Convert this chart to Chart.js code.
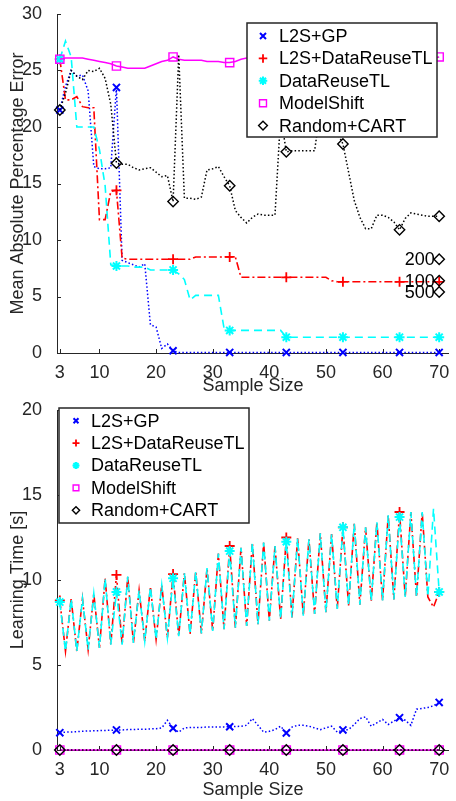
<!DOCTYPE html>
<html><head><meta charset="utf-8">
<script src="https://cdn.jsdelivr.net/npm/chart.js@4.4.1/dist/chart.umd.min.js"></script>
<style>
html,body{margin:0;padding:0;background:#fff;}
#wrap{position:relative;width:456px;height:801px;overflow:hidden;}
.box{position:absolute;left:0;width:456px;}
canvas{display:block;}
</style></head><body>
<div id="wrap">
<div class="box" style="top:0;height:400px"><canvas id="c1" width="456" height="400"></canvas></div>
<div class="box" style="top:400px;height:401px"><canvas id="c2" width="456" height="401"></canvas></div>
</div>
<script>
// ---------------- data ----------------
const sampleSizes = [3,4,5,6,7,8,9,10,11,12,13,14,15,16,17,18,19,20,21,22,23,24,25,26,27,28,29,30,31,32,33,34,35,36,37,38,39,40,41,42,43,44,45,46,47,48,49,50,51,52,53,54,55,56,57,58,59,60,61,62,63,64,65,66,67,68,69,70];
const markerSizes = [3,13,23,33,43,53,63,70];
const xTickValues = [3,10,20,30,40,50,60,70];
const seriesNames = ['L2S+GP','L2S+DataReuseTL','DataReuseTL','ModelShift','Random+CART'];

// Mean Absolute Percentage Error (top panel)
const mapeL2SGP = [21.5,23.6,25.0,24.5,24.6,23.2,16.5,16.3,16.3,16.4,23.5,8.2,8.0,7.8,7.6,7.9,2.5,2.3,0.4,0.8,0.2,
  0.05,0.05,0.05,0.05,0.05,0.05,0.05,0.05,0.05,0.05,0.05,0.05,0.05,0.05,0.05,0.05,0.05,0.05,0.05,0.05,0.05,0.05,0.05,0.05,0.05,0.05,0.05,0.05,0.05,0.05,0.05,0.05,0.05,0.05,0.05,0.05,0.05,0.05,0.05,0.05,0.05,0.05,0.05,0.05,0.05,0.05,0.05];
const mapeL2SDataReuse = [26.0,22.4,22.4,22.7,21.8,21.7,21.7,11.8,11.8,14.3,14.4,8.4,
  8.3,8.3,8.3,8.3,8.3,8.3,8.3,8.3,8.3,8.3,8.3,8.3,
  8.5,8.5,8.5,8.5,8.5,8.5,8.5,8.5,
  6.7,6.7,6.7,6.7,6.7,6.7,6.7,6.7,6.7,6.7,6.7,6.7,6.7,6.7,6.7,6.7,
  6.4,6.3,6.3,6.3,6.3,6.3,6.3,6.3,6.3,6.3,6.3,6.3,6.3,6.3,6.3,6.3,6.3,6.3,6.3,6.3];
const mapeDataReuse = [26.0,27.6,26.2,20.0,20.0,20.0,20.0,18.0,14.8,7.8,7.7,7.7,7.7,7.6,7.6,7.6,7.35,7.35,7.35,7.35,7.35,7.0,6.5,4.7,5.1,5.1,5.1,5.1,5.1,2.2,
  2.0,2.0,2.0,2.0,2.0,2.0,2.0,2.0,2.0,2.0,
  1.4,1.4,1.4,1.4,1.4,1.4,1.4,1.4,1.4,1.4,1.4,1.4,1.4,1.4,1.4,1.4,1.4,1.4,1.4,1.4,1.4,1.4,1.4,1.4,1.4,1.4,1.4,1.4];
const mapeModelShift = [26.0,26.1,26.1,26.1,26.1,26.0,25.9,25.8,25.7,25.6,25.4,25.3,25.2,25.2,25.2,25.2,25.4,25.6,25.8,25.9,26.2,26.0,25.9,25.9,25.9,25.9,25.8,25.8,25.8,25.7,25.7,25.8,26.0,
  26.1,26.1,26.1,26.1,26.1,26.1,26.1,26.1,26.1,26.1,26.1,26.1,26.1,26.1,26.1,26.1,26.1,26.1,26.1,26.1,26.1,26.1,26.1,26.1,26.1,26.1,26.1,26.1,26.1,26.1,26.1,26.1,26.1,26.1,26.2];
const mapeRandomCART = [21.5,23.0,25.0,24.5,24.2,25.0,24.9,25.2,24.3,22.0,16.8,16.7,16.7,16.4,16.2,16.3,16.4,16.0,15.6,15.7,13.4,26.4,13.7,13.7,13.6,13.8,16.2,16.3,16.5,15.6,14.8,12.6,12.0,11.5,12.0,12.3,12.2,12.2,12.2,21.0,17.8,17.9,17.9,17.9,17.9,17.9,21.5,22.0,21.5,19.5,18.5,16.0,13.5,12.0,11.0,11.0,12.2,12.2,12.0,11.6,10.9,11.9,12.4,12.3,12.2,12.1,12.1,12.1];
// Random+CART with larger sample sizes (annotated diamonds at the right edge)
const largeSampleLabels = ['200','100','500'];
const largeSampleX = [70,70,70];
const largeSampleMAPE = [8.3,6.4,5.4];

// Learning time [s] (bottom panel)
const timeL2SGP = [1.02,1.05,1.06,1.08,1.10,1.12,1.13,1.14,1.15,1.16,1.18,1.18,1.20,1.20,1.22,1.22,1.24,1.25,1.30,1.75,1.28,1.05,1.30,1.32,1.33,1.33,1.35,1.35,1.35,1.36,1.37,1.38,1.40,1.45,1.85,1.45,1.05,1.10,1.20,1.40,1.00,1.35,1.45,1.45,1.40,1.30,1.20,1.30,1.40,1.05,1.18,1.20,1.50,1.85,1.95,1.40,1.60,1.80,1.50,1.70,1.90,1.75,1.45,2.40,2.45,2.50,2.60,2.80];
const timeL2SDataReuse = [8.8,5.8,8.9,5.8,8.9,5.9,9.2,6.0,10.1,6.2,10.3,6.2,10.2,6.3,9.4,6.4,9.6,6.5,9.7,6.6,10.35,6.7,10.4,6.8,10.5,6.85,10.7,7.0,11.55,7.1,12.0,7.2,11.9,7.3,12.2,7.4,12.2,7.6,12.0,7.7,12.5,7.8,12.45,7.9,12.4,8.0,12.75,8.1,12.7,8.3,13.1,8.5,13.3,8.55,13.1,8.75,13.4,8.8,13.8,8.85,14.0,9.0,14.0,9.0,14.0,9.0,8.4,9.3];
const timeDataReuse = [8.7,5.8,8.9,5.8,8.9,5.9,9.2,6.0,10.1,6.2,9.3,6.2,10.2,6.3,9.4,6.4,9.6,6.5,9.7,6.6,10.1,6.7,10.4,6.8,10.5,6.85,10.7,7.0,11.55,7.1,11.7,7.2,11.9,7.3,12.2,7.4,12.2,7.6,12.0,7.7,12.25,7.8,12.45,7.9,12.4,8.0,12.75,8.1,12.7,8.3,13.1,8.5,13.3,8.55,13.1,8.75,13.4,8.8,13.8,8.85,13.7,9.0,14.0,9.0,14.0,9.0,14.2,9.3];
const timeModelShift = [0,0,0,0,0,0,0,0,0,0,0,0,0,0,0,0,0,0,0,0,0,0,0,0,0,0,0,0,0,0,0,0,0,0,0,0,0,0,0,0,0,0,0,0,0,0,0,0,0,0,0,0,0,0,0,0,0,0,0,0,0,0,0,0,0,0,0,0];
const timeRandomCART = [0,0,0,0,0,0,0,0,0,0,0,0,0,0,0,0,0,0,0,0,0,0,0,0,0,0,0,0,0,0,0,0,0,0,0,0,0,0,0,0,0,0,0,0,0,0,0,0,0,0,0,0,0,0,0,0,0,0,0,0,0,0,0,0,0,0,0,0];

// ---------------- styling ----------------
const FONT = "'Liberation Sans', Arial, Helvetica, sans-serif";
const AX = '#262626';
const styles = [
  {color:'#0000ff', dash:[1.5,2.2], pointStyle:'crossRot', r:5,   pw:2,   w:1.5},
  {color:'#ff0000', dash:[8,3,2,3], pointStyle:'cross',    r:5,   pw:1.8, w:1.6},
  {color:'#00ffff', dash:[8,5],     pointStyle:'star',     r:5,   pw:2,   w:1.6},
  {color:'#ff00ff', dash:[],        pointStyle:'rect',     r:5.8, pw:1.4, w:1.5},
  {color:'#000000', dash:[1.5,2.2], pointStyle:'rectRot',  r:5.2, pw:1.4, w:1.5}
];

function pts(vals){ return vals.map((v,i)=>({x: sampleSizes[i], y: v})); }
function makeDatasets(seriesVals){
  return seriesVals.map((vals,k)=>{
    const s = styles[k];
    return {
      label: seriesNames[k], data: pts(vals),
      borderColor: s.color, backgroundColor: 'rgba(0,0,0,0)',
      borderWidth: s.w, borderDash: s.dash,
      pointStyle: s.pointStyle,
      pointRadius: (ctx)=> markerSizes.includes(sampleSizes[ctx.dataIndex]) ? s.r : 0,
      pointHoverRadius: 0,
      pointBorderWidth: s.pw, pointBorderColor: s.color, pointBackgroundColor: 'rgba(0,0,0,0)',
      tension: 0, fill: false, clip: false, order: 4 - k
    };
  });
}

const inwardTicks = {
  id: 'inwardTicks',
  beforeDatasetsDraw(chart){
    const {ctx, scales:{x,y}, chartArea:a} = chart;
    ctx.save(); ctx.strokeStyle = AX; ctx.lineWidth = 1; ctx.beginPath();
    x.ticks.forEach(t=>{ const px = Math.round(x.getPixelForValue(t.value)) + 0.5; ctx.moveTo(px, a.bottom); ctx.lineTo(px, a.bottom - 4); });
    y.ticks.forEach(t=>{ const py = Math.round(y.getPixelForValue(t.value)) + 0.5; ctx.moveTo(a.left, py); ctx.lineTo(a.left + 4, py); });
    ctx.stroke(); ctx.restore();
  }
};

const boxLegend = {
  id: 'boxLegend',
  afterDatasetsDraw(chart, args, o){
    const ctx = chart.ctx;
    ctx.save();
    ctx.fillStyle = '#fff'; ctx.fillRect(o.x, o.y, o.w, o.h);
    ctx.strokeStyle = AX; ctx.lineWidth = 1.5; ctx.strokeRect(o.x, o.y, o.w, o.h);
    chart.data.datasets.slice(0, seriesNames.length).forEach((ds, i)=>{
      const cy = o.y + o.first + i * o.gap;
      const s = styles[i];
      ctx.strokeStyle = s.color; ctx.fillStyle = 'rgba(0,0,0,0)'; ctx.lineWidth = s.pw;
      Chart.helpers.drawPoint(ctx, {pointStyle: s.pointStyle, radius: s.r * o.mscale, rotation: 0, borderWidth: s.pw}, o.x + o.mx, cy);
      ctx.fillStyle = '#000'; ctx.font = '18px ' + FONT; ctx.textBaseline = 'middle'; ctx.textAlign = 'left';
      ctx.fillText(ds.label, o.x + o.tx, cy + 1);
    });
    ctx.restore();
  }
};

const pointLabels = {
  id: 'pointLabels',
  afterDatasetsDraw(chart){
    const idx = chart.data.datasets.findIndex(d => d.pointText);
    if (idx < 0) return;
    const meta = chart.getDatasetMeta(idx);
    const ctx = chart.ctx; ctx.save();
    ctx.fillStyle = '#000'; ctx.font = '18px ' + FONT; ctx.textAlign = 'right'; ctx.textBaseline = 'middle';
    meta.data.forEach((el, i)=>{ ctx.fillText(chart.data.datasets[idx].pointText[i], el.x - 4.5, el.y + 1); });
    ctx.restore();
  }
};

function xScale(height, titlePad){
  return {
    type: 'linear', min: 2.5, max: 71.7,
    afterBuildTicks: s => { s.ticks = xTickValues.map(v => ({value: v})); },
    grid: {display: false}, border: {display: true, color: AX, width: 1},
    ticks: {color: AX, font: {family: FONT, size: 18}, padding: 1, maxRotation: 0, autoSkip: false},
    title: {display: true, text: 'Sample Size', color: AX, font: {family: FONT, size: 18}, padding: {top: 0, bottom: titlePad}},
    afterFit: s => { s.height = height; s.paddingLeft = 0; s.paddingRight = 0; }
  };
}
function yScale(max, title){
  return {
    min: 0, max: max,
    grid: {display: false}, border: {display: true, color: AX, width: 1},
    ticks: {stepSize: 5, color: AX, font: {family: FONT, size: 18}, padding: 7},
    title: {display: true, text: title, color: AX, font: {family: FONT, size: 18}, padding: {top: 7, bottom: 0}},
    afterFit: s => { s.width = 57; s.paddingTop = 0; s.paddingBottom = 0; }
  };
}

const common = {
  responsive: false, animation: false, devicePixelRatio: 1,
  plugins: {legend: {display: false}, tooltip: {enabled: false}},
  events: []
};

// ---------------- top chart ----------------
const topSets = makeDatasets([mapeL2SGP, mapeL2SDataReuse, mapeDataReuse, mapeModelShift, mapeRandomCART]);
topSets.push({
  label: 'Random+CART (larger samples)',
  data: largeSampleX.map((x, i) => ({x: x, y: largeSampleMAPE[i]})),
  pointText: largeSampleLabels,
  showLine: false, borderColor: '#000', backgroundColor: 'rgba(0,0,0,0)',
  pointStyle: 'rectRot', pointRadius: 5.2, pointHoverRadius: 0, pointBorderWidth: 1.4,
  pointBorderColor: '#000', pointBackgroundColor: 'rgba(0,0,0,0)', clip: false, order: -1
});
new Chart(document.getElementById('c1'), {
  type: 'line',
  data: {datasets: topSets},
  options: Object.assign({}, common, {
    layout: {padding: {left: 0, right: 1, top: 14, bottom: 0}},
    scales: {x: xScale(47, 3), y: yScale(30, 'Mean Absolute Percentage Error')},
    plugins: Object.assign({}, common.plugins, {
      boxLegend: {x: 247, y: 23, w: 190, h: 114, first: 13, gap: 22.4, mx: 16, tx: 32, mscale: 0.85}
    })
  }),
  plugins: [inwardTicks, boxLegend, pointLabels]
});

// ---------------- bottom chart ----------------
new Chart(document.getElementById('c2'), {
  type: 'line',
  data: {datasets: makeDatasets([timeL2SGP, timeL2SDataReuse, timeDataReuse, timeModelShift, timeRandomCART])},
  options: Object.assign({}, common, {
    layout: {padding: {left: 0, right: 1, top: 10, bottom: 0}},
    scales: {x: xScale(51, 0), y: yScale(20, 'Learning Time [s]')},
    plugins: Object.assign({}, common.plugins, {
      boxLegend: {x: 59, y: 8, w: 190, h: 115, first: 12.7, gap: 22.4, mx: 17, tx: 32, mscale: 0.7}
    })
  }),
  plugins: [inwardTicks, boxLegend]
});
</script>
</body></html>
